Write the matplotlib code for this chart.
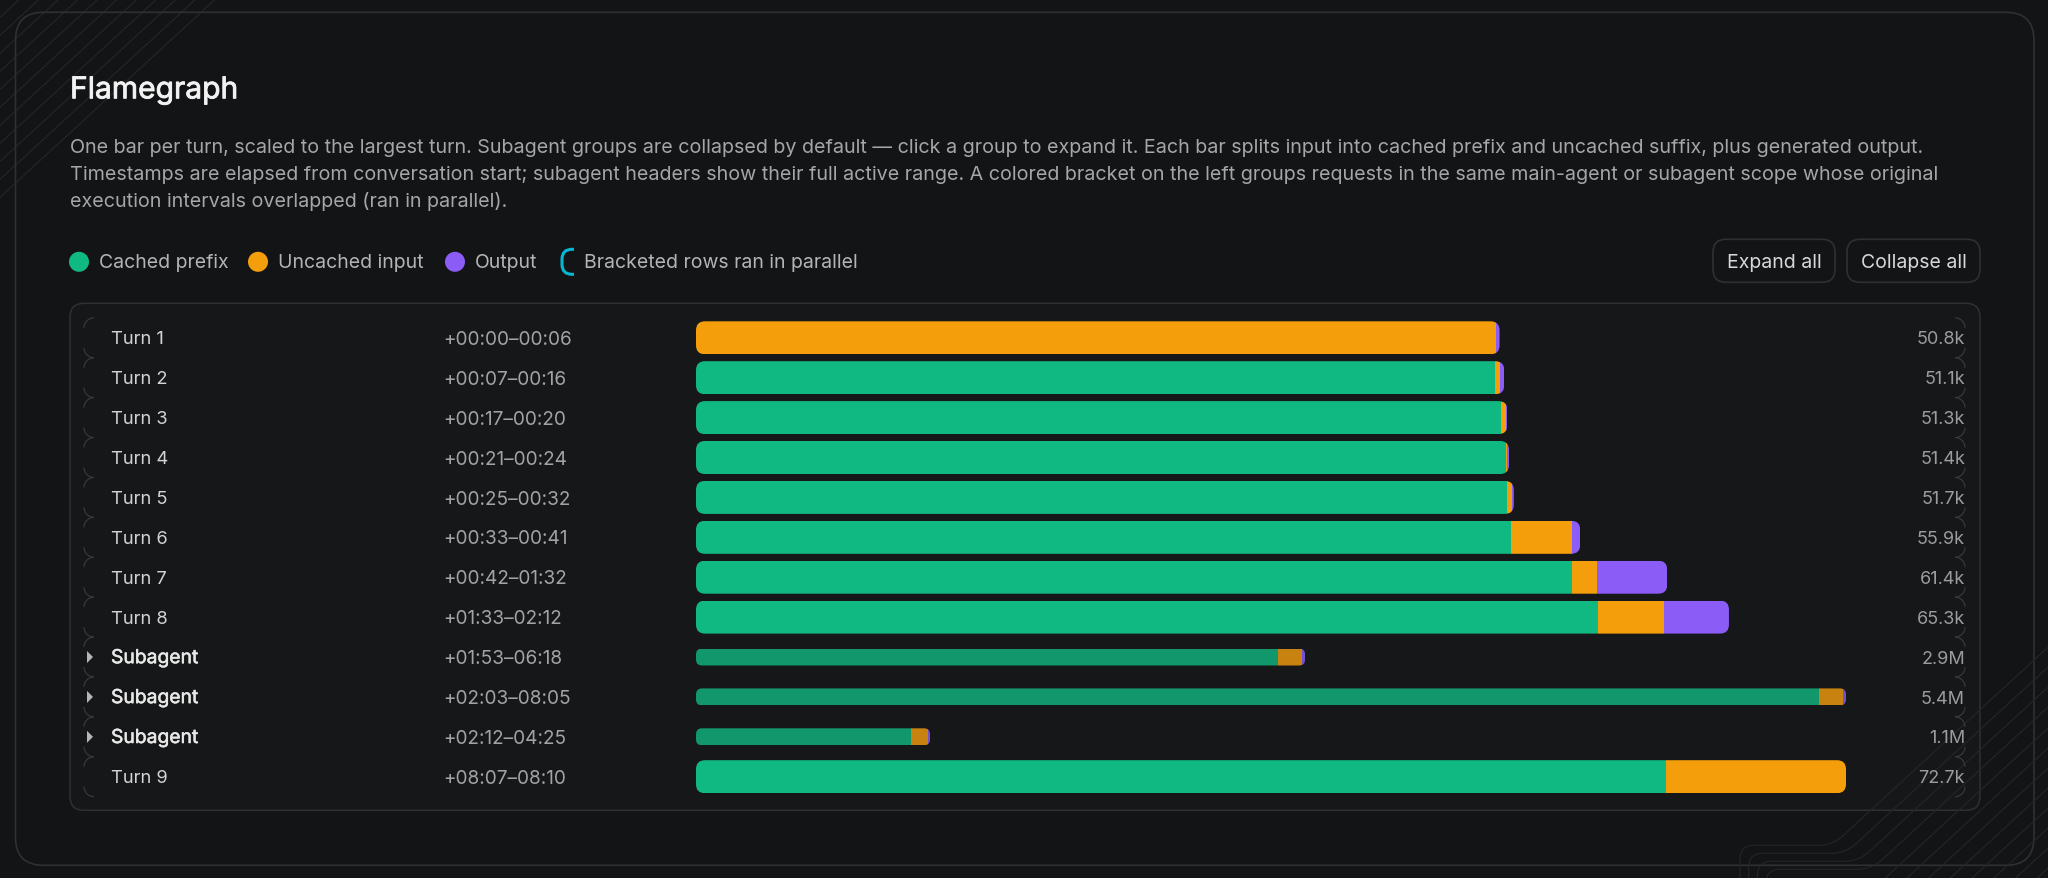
import matplotlib
matplotlib.use("Agg")
import matplotlib.pyplot as plt
import matplotlib.patheffects as pe
from matplotlib.patches import FancyBboxPatch, Arc, Polygon, PathPatch, Circle
from matplotlib.path import Path
from matplotlib.transforms import IdentityTransform, blended_transform_factory

# ---- data (thousands of tokens) ----
labels = ["Turn 1", "Turn 2", "Turn 3", "Turn 4", "Turn 5", "Turn 6", "Turn 7", "Turn 8",
          "Subagent", "Subagent", "Subagent", "Turn 9"]
times = ["+00:00–00:06", "+00:07–00:16", "+00:17–00:20", "+00:21–00:24", "+00:25–00:32",
         "+00:33–00:41", "+00:42–01:32", "+01:33–02:12", "+01:53–06:18", "+02:03–08:05",
         "+02:12–04:25", "+08:07–08:10"]
value_labels = ["50.8k", "51.1k", "51.3k", "51.4k", "51.7k", "55.9k", "61.4k", "65.3k",
                "2.9M", "5.4M", "1.1M", "72.7k"]
cached = [0, 50.5, 50.9, 51.2, 51.3, 51.5, 55.4, 57.0, 2733, 5273, 1010, 61.3]
uncached = [50.55, 0.3, 0.3, 0.1, 0.28, 3.86, 1.55, 4.2, 113, 113, 80, 11.4]
output = [0.25, 0.3, 0.1, 0.1, 0.12, 0.54, 4.45, 4.1, 14, 14, 9, 0.0]
is_sub = [l == "Subagent" for l in labels]
legend_items = ["Cached prefix", "Uncached input", "Output"]
buttons = ["Expand all", "Collapse all"]
title = "Flamegraph"
desc = ["One bar per turn, scaled to the largest turn. Subagent groups are collapsed by default — click a group to expand it. Each bar splits input into cached prefix and uncached suffix, plus generated output.",
        "Timestamps are elapsed from conversation start; subagent headers show their full active range. A colored bracket on the left groups requests in the same main-agent or subagent scope whose original",
        "execution intervals overlapped (ran in parallel)."]

W, H = 2048, 879
DY = 1.3
BG, PANEL, EDGE = "#131416", "#161718", "#2e3033"
GREEN, ORANGE, PURPLE = "#10B981", "#F59E0B", "#8B5CF6"
DGREEN, DORANGE, DPURPLE = "#11976B", "#C8820F", "#7650D0"
plt.rcParams["font.family"] = ["Inter", "DejaVu Sans"]

fig = plt.figure(figsize=(W / 100, H / 100), dpi=100, facecolor=BG)

# page chrome in pixel coordinates
ch = fig.add_axes([0, 0, 1, 1], zorder=0)
ch.set_xlim(0, W); ch.set_ylim(H - DY, -DY); ch.axis("off")

def rbox(x0, y0, x1, y1, r, fc="none", ec=EDGE, lw=1.1, z=2):
    p = FancyBboxPatch((x0, y0), x1 - x0, y1 - y0, boxstyle=f"round,pad=0,rounding_size={r}",
                       fc=fc, ec=ec, lw=lw, zorder=z)
    ch.add_patch(p)

rbox(15.5, 12, 2034, 865, 28, lw=1.2)
rbox(70, 303, 1980, 810, 14, fc=PANEL)

# diagonal hatching, corners
HATCH = "#242628"
SLOPE = 0.92
for c in range(17, 200, 18):
    ch.plot([0, c / SLOPE], [c, 0], color=HATCH, lw=0.8, zorder=1)

def trace(x0, yh, c):
    xe = (c - yh) / SLOPE
    r = 14
    verts = [(x0, H + 3), (x0, yh + r), (x0, yh), (x0 + r, yh), (xe - r, yh), (xe, yh),
             (xe + r * 0.75, yh - r * 0.75 * SLOPE), (W, c - SLOPE * W)]
    codes = [Path.MOVETO, Path.LINETO, Path.CURVE3, Path.CURVE3, Path.LINETO, Path.CURVE3,
             Path.CURVE3, Path.LINETO]
    ch.add_patch(PathPatch(Path(verts, codes), fc="none", ec=HATCH, lw=0.8, zorder=3))

for i in range(4):
    trace(1740 + 8.7 * i, 845 + 8 * i, 2531 + 20 * i)
for c in range(2612, 2765, 20):
    ch.plot([(c - H - 3) / SLOPE, W], [H + 3, c - SLOPE * W], color=HATCH, lw=0.8, zorder=3)
rbox(1713, 239, 1835, 282, 13, fc=BG, lw=1.2, z=4)
rbox(1847, 239, 1980, 282, 13, fc=BG, lw=1.2, z=4)

# bars, scaled in data units: turns to the largest turn, subagent groups to the largest group
ROW0, PITCH = 337.5 + DY, 39.9
top, bot = ROW0 - PITCH / 2, ROW0 + PITCH * 11.5
X0, X1 = 696, 1846
ax = fig.add_axes([X0 / W, 1 - bot / H, (X1 - X0) / W, (bot - top) / H], zorder=2)
ax.set_xlim(0, max(c + u + o for c, u, o, s in zip(cached, uncached, output, is_sub) if not s))
ax.set_ylim(11.5, -0.5)
ax.axis("off")
axs = ax.twiny()
axs.set_xlim(0, max(c + u + o for c, u, o, s in zip(cached, uncached, output, is_sub) if s))
axs.axis("off")

for i, (c, u, o, s) in enumerate(zip(cached, uncached, output, is_sub)):
    a = axs if s else ax
    h = 17 / PITCH if s else 33 / PITCH
    cols = (DGREEN, DORANGE, DPURPLE) if s else (GREEN, ORANGE, PURPLE)
    p0 = a.transData.transform((0, i - h / 2))
    p1 = a.transData.transform((c + u + o, i + h / 2))
    x, y = min(p0[0], p1[0]), min(p0[1], p1[1])
    clip = FancyBboxPatch((x, y), abs(p1[0] - p0[0]), abs(p1[1] - p0[1]),
                          boxstyle=f"round,pad=0,rounding_size={6 if s else 9}")
    left = 0
    for v, col in zip((c, u, o), cols):
        if v > 0:
            for b in a.barh(i, v, left=left, height=h, color=col, lw=0):
                b.set_clip_path(clip.get_path(), IdentityTransform())
        left += v

# row texts
tf = blended_transform_factory(ch.transData, ax.transData)
TXT = 0.03  # small downward nudge in row units
for i, (lab, t, v, s) in enumerate(zip(labels, times, value_labels, is_sub)):
    tx = ax.text(111, i + TXT, lab, transform=tf, va="center", ha="left", fontsize=13.9 if s else 13.2,
                 clip_on=False, color="#e8e8e8" if s else "#d4d4d4")
    if s:
        tx.set_path_effects([pe.withStroke(linewidth=0.4, foreground="#e8e8e8")])
    ax.text(443, i + TXT, t, transform=tf, va="center", ha="left", fontsize=13.7, color="#a3a3a3", clip_on=False)
    ax.text(1965, i + TXT, v, transform=tf, va="center", ha="right", fontsize=13, color="#9c9c9c", clip_on=False)
    y = ROW0 - DY + PITCH * i
    if s:
        ch.add_patch(Polygon([(87, y - 6), (93, y), (87, y + 6)], fc="#b5b5b5", ec="none", zorder=5))
    # faint row brackets
    for cx, s1, s2, cy in ((94, 180, 270, y - PITCH / 2 + 10), (94, 90, 180, y + PITCH / 2 - 10),
                           (1955, 270, 360, y - PITCH / 2 + 10), (1955, 0, 90, y + PITCH / 2 - 10)):
        ch.add_patch(Arc((cx, cy), 20, 20, theta1=s1, theta2=s2, ec="#3a3c3f", lw=0.8, zorder=5))

# header
ch.text(70, 90, title, fontsize=21.6, color="#f2f2f2", va="center", zorder=6,
        path_effects=[pe.withStroke(linewidth=0.6, foreground="#f2f2f2")])
for y, line in zip((147, 173.5, 200), desc):
    ch.text(70, y, line, fontsize=14.2, color="#a6a6a6", va="center", zorder=6)

# legend
LY = 261.5
for cx, col, lx, lab in zip((79, 258, 455), (GREEN, ORANGE, PURPLE), (99, 278, 475), legend_items):
    ch.add_patch(Circle((cx, LY), 10, fc=col, ec="none", zorder=6))
    ch.text(lx, LY, lab, fontsize=14, color="#b4b4b4", va="center", zorder=6)
ch.add_patch(PathPatch(Path([(574, 249), (572, 249), (562, 249), (562, 259), (562, 264), (562, 274), (572, 274), (574, 274)],
                            [Path.MOVETO, Path.LINETO, Path.CURVE3, Path.CURVE3, Path.LINETO, Path.CURVE3, Path.CURVE3, Path.LINETO]),
                       fc="none", ec="#06B6D4", lw=2.2, zorder=6))
ch.text(584, LY, "Bracketed rows ran in parallel", fontsize=14, color="#b4b4b4", va="center", zorder=6)
ch.text(1774, LY, buttons[0], fontsize=14, color="#d8d8d8", ha="center", va="center", zorder=6)
ch.text(1913.5, LY, buttons[1], fontsize=14, color="#d8d8d8", ha="center", va="center", zorder=6)

fig.savefig("out.png", dpi=100, facecolor=BG)
